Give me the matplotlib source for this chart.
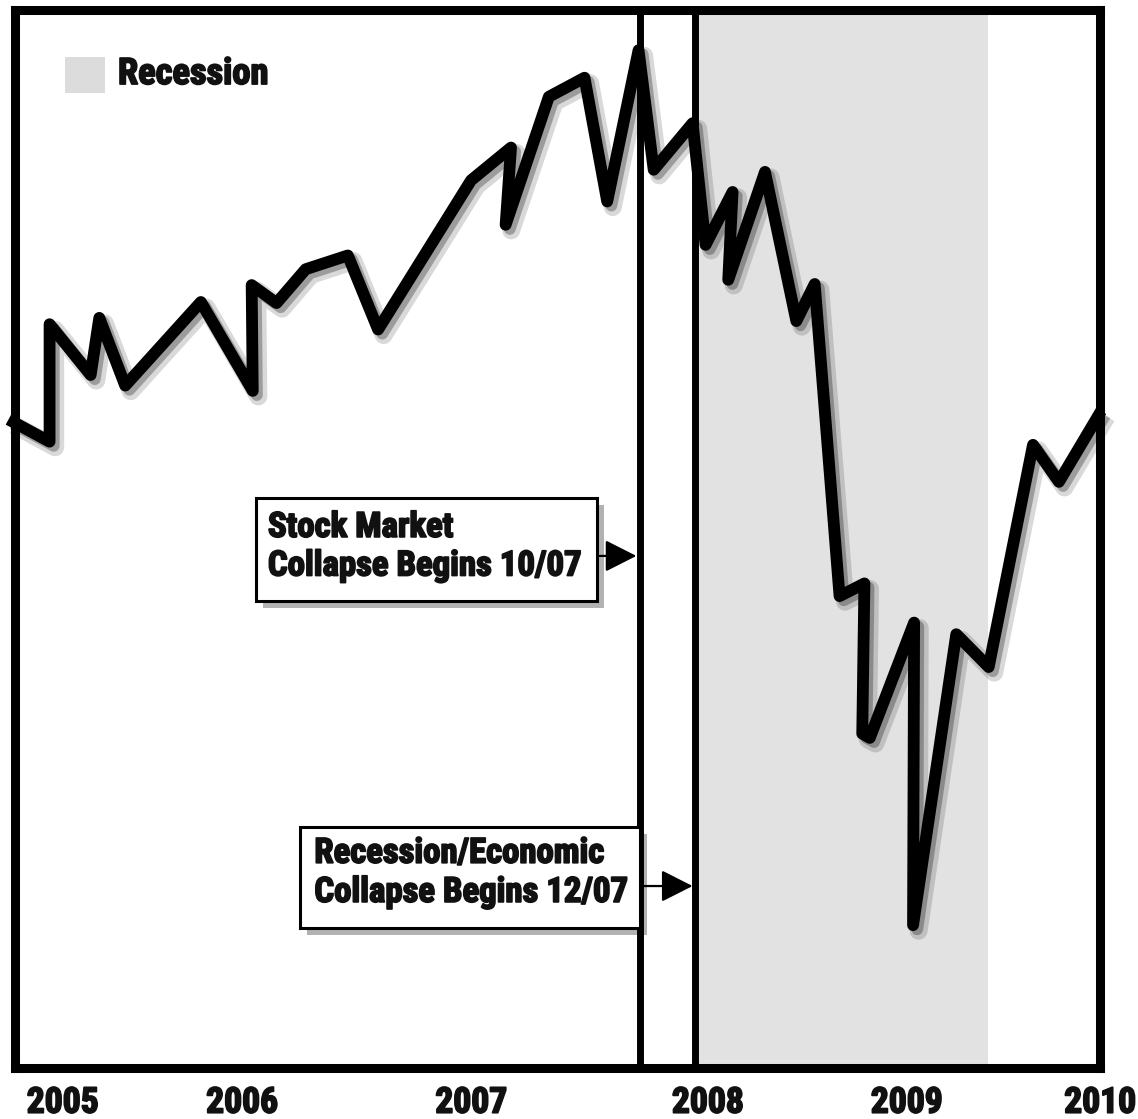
import os
import matplotlib
matplotlib.use("Agg")
import matplotlib.pyplot as plt
import matplotlib.patheffects as pe
from matplotlib import font_manager as fm
from matplotlib.patches import Rectangle

# ---------------- data (position along period 0-100, index value 0-100) ----------------
x_pos = [-0.6, 3.2, 3.2, 7.0, 7.8, 10.2, 17.2, 22.0, 21.9, 24.2, 26.9, 30.8, 33.6,
         42.2, 45.9, 45.4, 49.4, 52.7, 54.8, 57.7, 59.1, 62.7, 63.9, 66.4, 66.0,
         69.4, 72.3, 74.0, 76.3, 78.6, 78.4, 79.1, 83.2, 83.1, 87.1, 90.1, 94.2,
         96.6, 100.5]
index_vals = [61.3, 59.2, 70.3, 65.5, 70.9, 64.5, 72.4, 64.0, 74.0, 72.3, 75.5, 76.8,
              69.8, 83.9, 87.0, 79.7, 91.8, 93.6, 81.9, 96.2, 84.9, 89.3, 77.8, 82.8,
              74.5, 84.7, 70.6, 74.1, 44.6, 45.8, 31.6, 31.2, 42.1, 13.5, 41.0, 37.9,
              58.9, 55.4, 62.1]
year_pos = [4.4, 21.0, 42.2, 64.1, 82.5, 100.4]
year_labels = ["2005", "2006", "2007", "2008", "2009", "2010"]
event_pos = [57.8, 62.9]            # stock market collapse 10/07, recession 12/07
recession_span = [63.1, 90.05]
legend_label = "Recession"
box1_lines = ["Stock Market", "Collapse Begins 10/07"]
box2_lines = ["Recession/Economic", "Collapse Begins 12/07"]

# ---------------- font ----------------
prefs = ['NotoSans-ExtraCondensedBlack', 'NotoSans-CondensedBlack',
         'NotoSans-ExtraCondensedExtraBold', 'NotoSans-CondensedExtraBold',
         'NotoSans-ExtraCondensedBold', 'NotoSans-CondensedBold',
         'RobotoCondensed-Black', 'RobotoCondensed-ExtraBold', 'RobotoCondensed-Bold',
         'OpenSans-CondensedExtraBold', 'OpenSans_Condensed-ExtraBold',
         'OpenSans-CondensedBold', 'LiberationSansNarrow-Bold',
         'DejaVuSansCondensed-Bold']
files = [f.fname for f in fm.fontManager.ttflist]
chosen = None
for p in prefs:
    for f in files:
        if os.path.splitext(os.path.basename(f))[0] == p:
            chosen = f
            break
    if chosen:
        break
if chosen:
    FP = fm.FontProperties(fname=chosen)
else:
    FP = fm.FontProperties(family='DejaVu Sans', weight='bold')

fig = plt.figure(figsize=(11.38, 11.19), dpi=100)
W, H = 1138, 1119
ax = fig.add_axes([15 / W, (H - 1068) / H, 1085 / W, 1058 / H])
ax.set_xlim(0, 100)
ax.set_ylim(0, 100)

renderer = fig.canvas.get_renderer()


def fit_size(text, target_px, base=20.0):
    t = fig.text(0, 0, text, fontproperties=FP, fontsize=base)
    w = t.get_window_extent(renderer).width
    t.remove()
    return base * target_px / w


TXT = '#111111'
heavy = [pe.withStroke(linewidth=1.3, foreground=TXT)]

# recession shading
ax.axvspan(recession_span[0], recession_span[1], color='#e2e2e2', zorder=0, lw=0)

# event lines
for xv in event_pos:
    ax.axvline(xv, color='black', lw=5, zorder=2)

# main line
shadow = [pe.SimpleLineShadow(offset=(4, -4), shadow_color='black', alpha=0.15, linewidth=13),
          pe.SimpleLineShadow(offset=(3, -3), shadow_color='black', alpha=0.28),
          pe.Normal()]
ax.plot(x_pos, index_vals, color='black', lw=8.5, solid_joinstyle='round',
        solid_capstyle='butt', zorder=4, clip_on=False, path_effects=shadow)

# frame
for s in ax.spines.values():
    s.set_linewidth(6.5)
    s.set_color('black')
    s.set_zorder(5)
ax.set_yticks([])
ax.set_xticks(year_pos, year_labels)
ax.tick_params(axis='x', length=0, pad=12)
ys = fit_size("2005", 72)
for lab in ax.get_xticklabels():
    lab.set_fontproperties(FP)
    lab.set_fontsize(ys)
    lab.set_color(TXT)
    lab.set_path_effects(heavy)

# legend
ax.add_patch(Rectangle((0.046, 0.9216), 0.0369, 0.034, transform=ax.transAxes,
                       facecolor='#dcdcdc', edgecolor='none', zorder=3))
ls = fit_size(legend_label, 150)
ax.text(0.0949, 0.9395, legend_label, transform=ax.transAxes, fontproperties=FP,
        fontsize=ls, color=TXT, va='center', ha='left', zorder=6, path_effects=heavy)

# annotation boxes
bs = fit_size(box1_lines[1], 313)
box_fx = [pe.SimplePatchShadow(offset=(5, -5), shadow_rgbFace='black', alpha=0.3), pe.Normal()]


def ann_box(x0, x1, y0, y1, tx, ty_lines, lines, ax_from, ax_to, ay):
    ax.add_patch(Rectangle((x0, y0), x1 - x0, y1 - y0, facecolor='white', edgecolor='black',
                           lw=2.2, zorder=7, path_effects=box_fx))
    for ty, line in zip(ty_lines, lines):
        ax.text(tx, ty, line, fontproperties=FP, fontsize=bs, color=TXT,
                va='center', ha='left', zorder=8, path_effects=heavy)
    ax.annotate('', xy=(ax_to, ay), xytext=(ax_from, ay),
                arrowprops=dict(arrowstyle='-|>,head_length=0.75,head_width=0.38',
                                lw=1.6, color='black', shrinkA=0, shrinkB=0,
                                mutation_scale=26), zorder=8)


ann_box(22.3, 53.9, 44.1, 53.9, 23.4, [51.1, 47.45], box1_lines, 54.1, 57.5, 48.4)
ann_box(26.4, 57.8, 13.2, 22.8, 27.7, [20.3, 16.6], box2_lines, 58.1, 62.7, 17.2)

fig.savefig("out.png", dpi=100, facecolor='white')
